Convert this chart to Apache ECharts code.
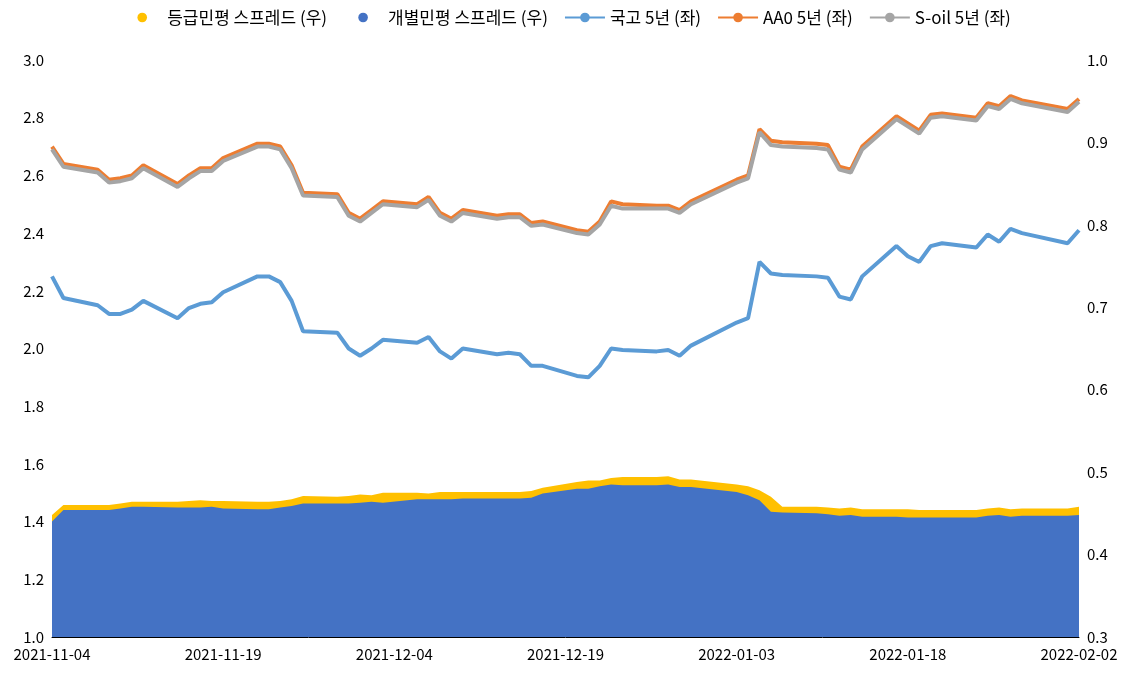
<!DOCTYPE html>
<html><head><meta charset="utf-8">
<script src="https://cdn.jsdelivr.net/npm/echarts@6/dist/echarts.min.js"></script>
<style>html,body{margin:0;padding:0;background:#fff}#c{width:1133px;height:678px}</style>
</head><body><div id="c"></div>
<script>
const dates = ['2021-11-04','2021-11-05','2021-11-08','2021-11-09','2021-11-10','2021-11-11','2021-11-12',
'2021-11-15','2021-11-16','2021-11-17','2021-11-18','2021-11-19','2021-11-22','2021-11-23','2021-11-24','2021-11-25','2021-11-26',
'2021-11-29','2021-11-30','2021-12-01','2021-12-02','2021-12-03','2021-12-06','2021-12-07','2021-12-08','2021-12-09','2021-12-10',
'2021-12-13','2021-12-14','2021-12-15','2021-12-16','2021-12-17','2021-12-20','2021-12-21','2021-12-22','2021-12-23','2021-12-24',
'2021-12-27','2021-12-28','2021-12-29','2021-12-30','2022-01-03','2022-01-04','2022-01-05','2022-01-06','2022-01-07',
'2022-01-10','2022-01-11','2022-01-12','2022-01-13','2022-01-14','2022-01-17','2022-01-18','2022-01-19','2022-01-20','2022-01-21',
'2022-01-24','2022-01-25','2022-01-26','2022-01-27','2022-01-28','2022-02-01','2022-02-02'];
const gukgo = [2.25,2.175,2.15,2.12,2.12,2.135,2.165,2.105,2.14,2.155,2.16,2.195,2.25,2.25,2.23,2.165,2.06,
2.055,2.0,1.975,2.0,2.03,2.02,2.04,1.99,1.965,2.0,1.98,1.985,1.98,1.94,1.94,1.905,1.9,1.94,2.0,1.995,
1.99,1.995,1.975,2.01,2.09,2.105,2.3,2.26,2.255,2.25,2.245,2.18,2.17,2.25,2.355,2.32,2.3,2.355,2.365,
2.35,2.395,2.37,2.415,2.4,2.365,2.41];
const aa0 = [2.70,2.64,2.62,2.585,2.59,2.60,2.635,2.57,2.60,2.625,2.625,2.66,2.71,2.71,2.70,2.635,2.54,
2.535,2.47,2.45,2.48,2.51,2.50,2.525,2.47,2.45,2.48,2.46,2.465,2.465,2.435,2.44,2.41,2.405,2.44,2.51,2.50,
2.495,2.495,2.48,2.51,2.585,2.60,2.76,2.72,2.715,2.71,2.705,2.63,2.62,2.70,2.805,2.78,2.755,2.81,2.815,
2.80,2.85,2.84,2.875,2.86,2.83,2.865];
const soil = [2.69,2.63,2.61,2.575,2.58,2.59,2.625,2.56,2.59,2.615,2.615,2.65,2.70,2.70,2.69,2.625,2.53,
2.525,2.46,2.44,2.47,2.50,2.49,2.515,2.46,2.44,2.47,2.45,2.455,2.455,2.425,2.43,2.40,2.395,2.43,2.495,2.485,
2.485,2.485,2.47,2.50,2.575,2.59,2.75,2.705,2.70,2.695,2.69,2.62,2.61,2.69,2.795,2.77,2.745,2.80,2.805,
2.79,2.84,2.83,2.865,2.85,2.82,2.855];
const gradeSpread = [0.448,0.46,0.46,0.46,0.462,0.464,0.464,0.464,0.465,0.466,0.465,0.465,0.464,0.464,0.465,0.467,0.471,
0.470,0.471,0.473,0.472,0.475,0.475,0.474,0.476,0.476,0.476,0.476,0.476,0.476,0.477,0.481,0.488,0.490,0.490,0.493,0.494,
0.494,0.495,0.491,0.491,0.485,0.483,0.478,0.47,0.458,0.458,0.457,0.456,0.457,0.455,0.455,0.455,0.454,0.454,0.454,
0.454,0.456,0.457,0.455,0.456,0.456,0.458];
const indivSpread = [0.44,0.454,0.454,0.454,0.456,0.458,0.458,0.457,0.457,0.457,0.458,0.456,0.457,0.456,0.455,0.455,0.458,
0.460,0.463,0.463,0.464,0.463,0.467,0.467,0.467,0.467,0.467,0.467,0.469,0.469,0.469,0.469,0.470,0.470,0.470,0.475,0.477,
0.477,0.477,0.478,0.478,0.478,0.478,0.478,0.48,0.482,0.482,0.481,0.481,0.482,0.480,0.480,0.479,0.478,0.477,0.475,
0.469,0.465,0.460,0.452,0.452,0.450,0.448];
// fix end part of indivSpread to follow picture (post Jan 6 falls to ~0.446)
const xTicks = ['2021-11-04','2021-11-19','2021-12-04','2021-12-19','2022-01-03','2022-01-18','2022-02-02'];
</script>
<script>
const indiv2 = [0.44,0.454,0.454,0.454,0.456,0.458,0.458,0.457,0.457,0.457,0.458,0.456,0.455,0.455,0.457,0.459,0.462,
0.462,0.462,0.463,0.464,0.463,0.467,0.467,0.467,0.467,0.468,0.468,0.468,0.468,0.469,0.474,0.480,0.480,0.483,0.485,0.484,
0.484,0.485,0.482,0.482,0.476,0.472,0.466,0.452,0.451,0.450,0.449,0.447,0.448,0.446,0.446,0.445,0.445,0.445,0.445,
0.445,0.447,0.448,0.446,0.447,0.447,0.448];
const t0 = Date.parse('2021-11-04');
const dayIdx = d => Math.round((Date.parse(d) - t0) / 86400000);
const pts = arr => dates.map((d, i) => [dayIdx(d), arr[i]]);
const labelFor = v => { const dt = new Date(t0 + v * 86400000); return dt.toISOString().slice(0, 10); };
const font = '"Noto Sans CJK KR", "Malgun Gothic", sans-serif';
const chart = echarts.init(document.getElementById('c'));
chart.setOption({
  animation: false,
  textStyle: { fontFamily: font },
  legend: { top: 4, left: 'center', itemWidth: 40, itemHeight: 12, itemGap: 16,
    textStyle: { fontSize: 17, color: '#000', fontFamily: font },
    data: ['등급민평 스프레드 (우)', '개별민평 스프레드 (우)', '국고 5년 (좌)', 'AA0 5년 (좌)', 'S-oil 5년 (좌)'] },
  grid: { left: 52, right: 54, top: 60, bottom: 41 },
  xAxis: { type: 'value', min: 0, max: dayIdx(xTicks[xTicks.length - 1]), interval: 15,
    splitLine: { show: false },
    axisLine: { show: true, lineStyle: { color: '#000' } },
    axisTick: { show: false },
    axisLabel: { formatter: labelFor, color: '#000', fontSize: 15, fontFamily: font, margin: 10 } },
  yAxis: [
    { type: 'value', min: 1, max: 3, interval: 0.2, splitLine: { show: false },
      axisLine: { show: false }, axisTick: { show: false },
      axisLabel: { formatter: v => v.toFixed(1), color: '#000', fontSize: 15, fontFamily: font } },
    { type: 'value', min: 0.3, max: 1.0, interval: 0.1, splitLine: { show: false },
      axisLine: { show: false }, axisTick: { show: false },
      axisLabel: { formatter: v => v.toFixed(1), color: '#000', fontSize: 15, fontFamily: font } }
  ],
  series: [
    { name: '등급민평 스프레드 (우)', type: 'line', yAxisIndex: 1, data: pts(gradeSpread), symbol: 'none',
      lineStyle: { width: 0 }, itemStyle: { color: '#FFC000' }, areaStyle: { color: '#FFC000', opacity: 1, origin: 'start' } },
    { name: '개별민평 스프레드 (우)', type: 'line', yAxisIndex: 1, data: pts(indiv2), symbol: 'none',
      lineStyle: { width: 0 }, itemStyle: { color: '#4472C4' }, areaStyle: { color: '#4472C4', opacity: 1, origin: 'start' } },
    { name: '국고 5년 (좌)', type: 'line', data: pts(gukgo), symbol: 'none', itemStyle: { color: '#5B9BD5' }, lineStyle: { width: 4, color: '#5B9BD5' } },
    { name: 'AA0 5년 (좌)', type: 'line', data: pts(aa0), symbol: 'none', itemStyle: { color: '#ED7D31' }, lineStyle: { width: 4, color: '#ED7D31' } },
    { name: 'S-oil 5년 (좌)', type: 'line', data: pts(soil), symbol: 'none', itemStyle: { color: '#A5A5A5' }, lineStyle: { width: 4, color: '#A5A5A5' } }
  ]
});
</script>
</body></html>
